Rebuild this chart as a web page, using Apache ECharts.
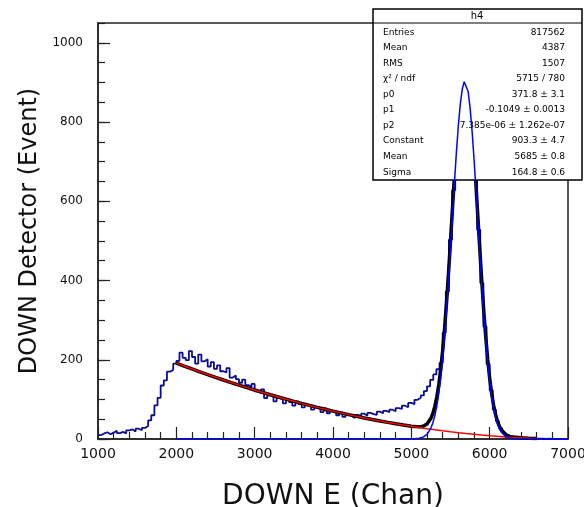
<!DOCTYPE html>
<html>
<head>
<meta charset="utf-8">
<script src="https://cdn.jsdelivr.net/npm/echarts@6/dist/echarts.min.js"></script>
<style>
  html, body { margin: 0; padding: 0; background: #fff; }
  #chart { width: 584px; height: 507px; }
</style>
</head>
<body>
<div id="chart"></div>
<script>
  // histogram h4: 40-channel bins starting at 1000
  const histStart = 1000;
  const histBinWidth = 40;
  const histCounts = [
    10, 14, 17, 12, 16, 21, 15, 18, 14, 22, 24, 19, 26, 22, 28, 33, 47, 60, 85, 104, 135, 148, 170, 174, 190,
    197, 218, 205, 199, 222, 207, 190, 213, 196, 201, 183, 194, 177, 186, 171, 168, 179, 155, 160, 151, 142, 150, 136, 131, 139,
    120, 116, 125, 103, 110, 112, 95, 104, 99, 90, 101, 93, 84, 95, 88, 80, 87, 84, 74, 80, 76, 68, 77, 65, 71,
    66, 60, 67, 56, 62, 58, 53, 61, 57, 64, 59, 66, 63, 61, 69, 65, 71, 68, 74, 70, 78, 76, 84, 80, 91,
    88, 99, 104, 110, 121, 133, 149, 163, 176, 192,
    268, 372, 503, 628, 757, 848, 910, 915, 864, 780, 654, 528, 394, 284, 189, 123, 74, 45, 27, 16,
    10, 7, 5, 4, 4, 3, 3, 2, 2, 1, 1, 1, 0, 1, 0, 0, 0, 0, 0, 0
  ];

  // total fit pol2 + gaus
  const fitChan = [
    2000, 2100, 2200, 2300, 2400, 2500, 2600, 2700, 2800, 2900, 3000, 3100, 3200, 3300, 3400,
    3500, 3600, 3700, 3800, 3900, 4000, 4100, 4200, 4300, 4400, 4500, 4600, 4700, 4800, 4900,
    5000, 5100, 5150, 5200, 5250, 5275, 5300, 5325, 5350, 5375, 5400, 5425, 5450, 5475, 5500,
    5525, 5550, 5575, 5600, 5625, 5650, 5675, 5700, 5725, 5750, 5775, 5800, 5825, 5850, 5875,
    5900, 5925, 5950, 5975, 6000, 6025, 6050, 6075, 6100, 6125, 6150, 6200, 6250, 6300, 6400,
    6500, 6600
  ];
  const fitTotal = [
    191.5, 184.1, 176.8, 169.6, 162.6, 155.7, 149.0, 142.4, 136.0, 129.7, 123.6, 117.6, 111.7, 106.1, 100.5,
    95.1, 89.9, 84.8, 79.8, 75.0, 70.4, 65.9, 61.5, 57.3, 53.2, 49.3, 45.5, 41.9, 38.4, 35.1,
    32.1, 30.6, 32.1, 37.9, 52.3, 64.9, 82.3, 105.7, 136.4, 175.3, 223.2, 280.3, 346.3, 420.0, 499.3,
    581.5, 662.9, 739.4, 806.8, 860.8, 898.1, 915.9, 913.4, 890.4, 848.5, 790.5, 719.9, 641.0, 558.1, 475.1,
    395.7, 322.3, 257.1, 200.8, 153.6, 115.5, 85.2, 62.0, 44.6, 31.9, 22.9, 12.1, 6.1, 4.9, 3.0,
    2.0, 1.2
  ];

  // pol2 background
  const bgChan = [
    2000, 2100, 2200, 2300, 2400, 2500, 2600, 2700, 2800, 2900, 3000, 3100, 3200, 3300, 3400, 3500,
    3600, 3700, 3800, 3900, 4000, 4100, 4200, 4300, 4400, 4500, 4600, 4700, 4800, 4900, 5000, 5100,
    5200, 5300, 5400, 5500, 5600, 5700, 5800, 5900, 6000, 6100, 6200, 6300, 6400, 6500, 6600
  ];
  const bgValues = [
    191.5, 184.1, 176.8, 169.6, 162.6, 155.7, 149.0, 142.4, 136.0, 129.7, 123.6, 117.6, 111.7, 106.1, 100.5, 95.1,
    89.9, 84.8, 79.8, 75.0, 70.4, 65.9, 61.5, 57.3, 53.2, 49.3, 45.5, 41.9, 38.4, 35.1, 31.9, 28.9,
    26.0, 23.3, 20.7, 18.3, 16.0, 13.8, 11.8, 10.0, 8.3, 6.7, 5.3, 4.0, 2.9, 2.0, 1.2
  ];

  // gaus component
  const gausChan = [
    2000, 3000, 4000, 4800, 5000, 5100, 5150, 5200, 5250, 5275, 5300, 5325, 5350, 5375, 5400,
    5425, 5450, 5475, 5500, 5525, 5550, 5575, 5600, 5625, 5650, 5675, 5685, 5700, 5725, 5750,
    5775, 5800, 5825, 5850, 5875, 5900, 5925, 5950, 5975, 6000, 6025, 6050, 6075, 6100, 6125,
    6150, 6200, 6250, 6300, 6400, 6500, 7000
  ];
  const gausValues = [
    0, 0, 0, 0, 0.2, 1.7, 4.7, 11.9, 27.7, 40.9, 59.0, 83.1, 114.4, 154.0, 202.5,
    260.2, 326.8, 401.1, 481.1, 563.8, 645.8, 722.9, 790.8, 845.4, 883.2, 901.6, 903.3, 899.6, 877.1, 835.7,
    778.2, 708.1, 629.7, 547.2, 464.7, 385.7, 312.8, 248.0, 192.1, 145.4, 107.6, 77.7, 54.9, 37.9, 25.6,
    16.9, 6.8, 2.5, 0.9, 0.1, 0, 0
  ];

  const statsTitle = 'h4';
  const statsNames = ['Entries', 'Mean', 'RMS', 'χ² / ndf', 'p0', 'p1', 'p2', 'Constant', 'Mean', 'Sigma'];
  const statsValues = ['817562', '4387', '1507', '5715 / 780', '371.8 ± 3.1', '-0.1049 ± 0.0013',
    '7.385e-06 ± 1.262e-07', '903.3 ± 4.7', '5685 ± 0.8', '164.8 ± 0.6'];

  const zip = (xs, ys) => xs.map((x, i) => [x, ys[i]]);

  const histData = histCounts.map((c, i) => [histStart + i * histBinWidth, c]);
  histData.push([histStart + histCounts.length * histBinWidth, histCounts[histCounts.length - 1]]);

  const chart = echarts.init(document.getElementById('chart'));

  // stats box
  const statsGraphic = [
    {
      type: 'rect', z: 10,
      shape: { x: 373, y: 9, width: 209, height: 171 },
      style: { fill: '#fff', stroke: '#000', lineWidth: 1.5 }
    },
    {
      type: 'line', z: 10,
      shape: { x1: 373, y1: 23, x2: 582, y2: 23 },
      style: { stroke: '#000', lineWidth: 1.2 }
    },
    {
      type: 'text', z: 11, x: 477, y: 16,
      style: { text: statsTitle, font: '10px "DejaVu Sans"', fill: '#000', textAlign: 'center', textVerticalAlign: 'middle' }
    }
  ];
  statsNames.forEach((name, i) => {
    const y = 32.3 + i * 15.55;
    statsGraphic.push({
      type: 'text', z: 11, x: 383, y: y,
      style: { text: name, font: '9px "DejaVu Sans"', fill: '#000', textAlign: 'left', textVerticalAlign: 'middle' }
    });
    statsGraphic.push({
      type: 'text', z: 11, x: 565, y: y,
      style: { text: statsValues[i], font: '9px "DejaVu Sans"', fill: '#000', textAlign: 'right', textVerticalAlign: 'middle' }
    });
  });

  const plainNumber = (v) => String(v);

  const option = {
    animation: false,
    backgroundColor: '#fff',
    grid: {
      left: 98, right: 16, top: 23, bottom: 68,
      outerBoundsMode: 'none',
      show: true, borderColor: '#222', borderWidth: 1.5, backgroundColor: 'transparent'
    },
    xAxis: {
      type: 'value',
      min: 1000, max: 7000, interval: 1000,
      name: 'DOWN E (Chan)',
      nameLocation: 'middle',
      nameGap: 44,
      nameTextStyle: { fontFamily: 'DejaVu Sans', fontSize: 28, color: '#111' },
      axisLine: { show: true, lineStyle: { color: '#222', width: 1.5 } },
      axisTick: { show: true, inside: true, length: 12, lineStyle: { color: '#222', width: 1.2 } },
      minorTick: { show: true, splitNumber: 5, length: 7, lineStyle: { color: '#222', width: 1.2 } },
      axisLabel: { fontFamily: 'DejaVu Sans', fontSize: 14, color: '#111', margin: 8, formatter: plainNumber },
      splitLine: { show: false }
    },
    yAxis: [
      {
        type: 'value',
        min: 0, max: 1050, interval: 200,
        name: 'DOWN Detector (Event)',
        nameLocation: 'middle',
        nameGap: 52,
        nameTextStyle: { fontFamily: 'DejaVu Sans', fontSize: 24, color: '#111' },
        position: 'left',
        axisLine: { show: true, lineStyle: { color: '#222', width: 1.5 } },
        axisTick: { show: true, inside: true, length: 12, lineStyle: { color: '#222', width: 1.2 } },
        axisLabel: { fontFamily: 'DejaVu Sans', fontSize: 12, color: '#111', margin: 15, showMaxLabel: false, formatter: plainNumber },
        splitLine: { show: false }
      },
      {
        // minor ticks every 50
        type: 'value',
        min: 0, max: 1050, interval: 50,
        position: 'left',
        axisLine: { show: false },
        axisTick: { show: true, inside: true, length: 7, lineStyle: { color: '#222', width: 1.2 } },
        axisLabel: { show: false },
        splitLine: { show: false }
      }
    ],
    graphic: statsGraphic,
    series: [
      {
        name: 'h4',
        type: 'line',
        step: 'end',
        data: histData,
        symbol: 'none',
        z: 2,
        lineStyle: { color: '#0b0b94', width: 1.8 }
      },
      {
        name: 'total',
        type: 'line',
        data: zip(fitChan, fitTotal),
        symbol: 'none',
        z: 3,
        lineStyle: { color: '#000', width: 3.5 }
      },
      {
        name: 'pol2',
        type: 'line',
        data: zip(bgChan, bgValues),
        symbol: 'none',
        z: 4,
        lineStyle: { color: '#ff0000', width: 1.5 }
      },
      {
        name: 'gaus',
        type: 'line',
        data: zip(gausChan, gausValues),
        symbol: 'none',
        z: 20,
        lineStyle: { color: '#0000ff', width: 1.5 }
      }
    ]
  };

  chart.setOption(option);
</script>
</body>
</html>
